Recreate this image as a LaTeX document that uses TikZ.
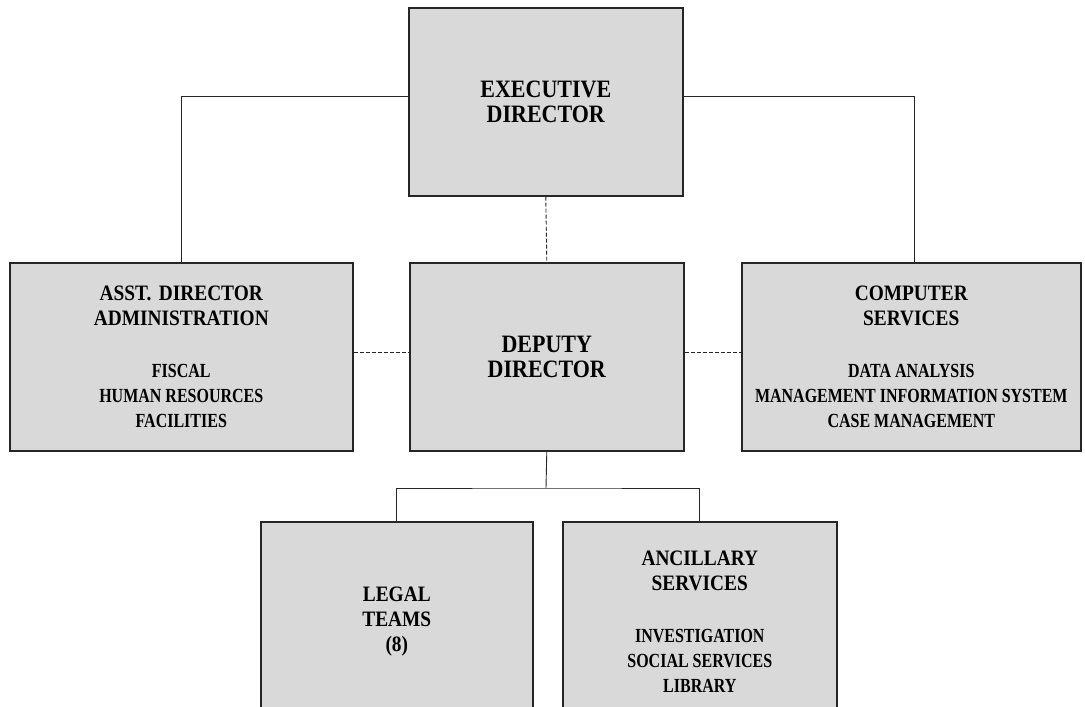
\documentclass[tikz,border=0pt]{standalone}
\usepackage{fontspec}
\setmainfont{Liberation Serif}
\newfontfamily\headfont[FakeStretch=0.88]{Liberation Serif}
\newfontfamily\itemfont[FakeStretch=0.8]{Liberation Serif}
\newcommand\bigtitle{\headfont\bfseries\fontsize{25}{25}\selectfont\spaceskip=0.22em}
\newcommand\boxtitle{\headfont\bfseries\fontsize{22}{25}\selectfont\spaceskip=0.22em}
\newcommand\boxitem{\itemfont\fontsize{20}{25}\selectfont\spaceskip=0.2em}

\tikzset{
  orgbox/.style={draw=black!85, line width=1.6pt, fill=gray!30, anchor=north west,
    inner sep=0pt, align=center, minimum height=188pt, font=\boxtitle},
  solidlink/.style={line width=0.9pt, black!85},
  dashlink/.style={line width=0.9pt, black!85, dash pattern=on 4pt off 2pt}
}

\begin{document}
\begin{tikzpicture}[x=1pt,y=-1pt]
\useasboundingbox (0,0) rectangle (1085,707);

\node[orgbox, minimum width=274pt, text width=260pt, font=\bigtitle] (exec) at (408,7)
  {EXECUTIVE\\ DIRECTOR};
\node[orgbox, minimum width=343pt, text width=330pt] (admin) at (9,262)
  {ASST. DIRECTOR\\ ADMINISTRATION\\[27pt]
   \boxitem FISCAL\\ HUMAN RESOURCES\\ FACILITIES};
\node[orgbox, minimum width=274pt, text width=260pt, font=\bigtitle] (deputy) at (409,262)
  {DEPUTY\\ DIRECTOR};
\node[orgbox, minimum width=339pt, text width=330pt] (comp) at (741,262)
  {COMPUTER\\ SERVICES\\[27pt]
   \boxitem DATA ANALYSIS\\ MANAGEMENT INFORMATION SYSTEM\\ CASE MANAGEMENT};
\node[orgbox, minimum width=272pt, text width=260pt, minimum height=200pt] (legal) at (260,521)
  {LEGAL\\ TEAMS\\ (8)};
\node[orgbox, minimum width=274pt, text width=260pt, minimum height=200pt] (ancil) at (562,521)
  {ANCILLARY\\ SERVICES\\[27pt]
   \boxitem INVESTIGATION\\ SOCIAL SERVICES\\ LIBRARY};

% links from the executive director
\draw[solidlink] ([yshift=5pt]exec.west) -| (admin.north);
\draw[solidlink] ([yshift=5pt]exec.east) -| ([xshift=3.5pt]comp.north);
\draw[dashlink] (exec.south) -- (deputy.north);

% deputy director to the side boxes
\draw[dashlink] ([yshift=4pt]admin.east) -- ([yshift=4pt]deputy.west);
\draw[dashlink] ([yshift=4pt]deputy.east) -- ([yshift=4pt]comp.west);

% deputy director to the teams
\coordinate (split) at (546,488);
\draw[solidlink] (deputy.south) -- (split);
\draw[solidlink] (legal.north) |- (split) -| (ancil.north);
\end{tikzpicture}
\end{document}
